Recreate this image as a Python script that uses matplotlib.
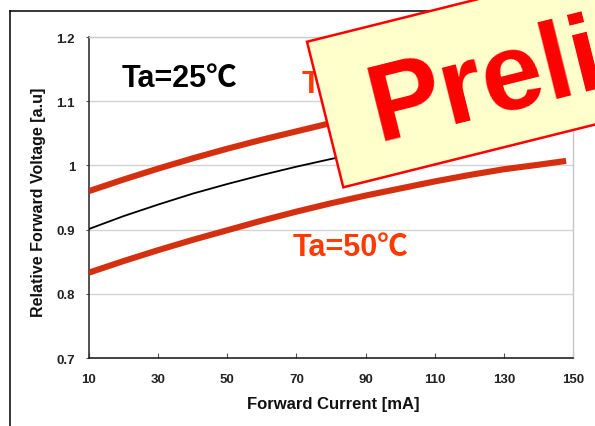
import matplotlib
matplotlib.use("Agg")
import matplotlib.pyplot as plt
import numpy as np
from matplotlib.patches import Polygon

# ---- data ----
current = [10, 20, 30, 40, 50, 60, 70, 80, 90, 100, 110, 120, 130, 140, 148]
v_ta0 = [0.960, 0.978, 0.995, 1.011, 1.026, 1.040, 1.053, 1.066, 1.078, 1.089,
         1.099, 1.108, 1.116, 1.123, 1.128]
v_ta25 = [0.901, 0.921, 0.939, 0.956, 0.971, 0.985, 0.998, 1.010, 1.021, 1.031,
          1.040, 1.048, 1.055, 1.061, 1.066]
v_ta50 = [0.833, 0.851, 0.868, 0.884, 0.899, 0.914, 0.928, 0.941, 0.953, 0.964,
          0.975, 0.985, 0.994, 1.001, 1.007]
x_ticks = [10, 30, 50, 70, 90, 110, 130, 150]
y_ticks = [0.7, 0.8, 0.9, 1.0, 1.1, 1.2]
y_ticklabels = ["0.7", "0.8", "0.9", "1", "1.1", "1.2"]
label_25 = "Ta=25\u2103"
label_50 = "Ta=50\u2103"
label_0 = "Ta=0\u2103"
stamp_text = "Preliminary"

W, H = 595, 427
fig = plt.figure(figsize=(W / 100, H / 100), dpi=100)
fig.patch.set_facecolor("white")

TXT = ["Liberation Sans", "Noto Sans CJK JP", "DejaVu Sans"]

# main axes: px 89..573 horizontally, 38..359 vertically
L, R, T, B = 89, 573, 38, 359
ax = fig.add_axes([L / W, 1 - B / H, (R - L) / W, (B - T) / H])
ax.set_xlim(10, 150)
ax.set_ylim(0.7, 1.2)

red_line = "#d4300f"
ax.plot(current, v_ta0, color=red_line, lw=4.4, solid_capstyle="butt",
        solid_joinstyle="round", zorder=3)
ax.plot(current, v_ta25, color="black", lw=1.3, zorder=3)
ax.plot(current, v_ta50, color=red_line, lw=4.4, solid_capstyle="butt",
        solid_joinstyle="round", zorder=3)

for yv in y_ticks[1:-1]:
    ax.axhline(yv, color="#d4d4d4", lw=1.0, zorder=1)

ax.set_xticks(x_ticks)
ax.set_xticklabels([str(v) for v in x_ticks])
ax.set_yticks(y_ticks)
ax.set_yticklabels(y_ticklabels)
ax.tick_params(axis="x", direction="in", length=3.5, width=0.8, color="#555555",
               pad=10.5, labelsize=9.5)
ax.tick_params(axis="y", direction="out", length=2, width=0.8, color="#555555",
               pad=8, labelsize=9.5)
for lab in ax.get_xticklabels() + ax.get_yticklabels():
    lab.set_fontfamily(["Liberation Sans Narrow", "Liberation Sans"])
    lab.set_fontweight("bold")
    lab.set_color("#222222")

ax.spines["left"].set_color("#333333")
ax.spines["bottom"].set_color("#222222")
ax.spines["left"].set_linewidth(1.2)
ax.spines["bottom"].set_linewidth(1.2)
ax.spines["top"].set_color("#c8c8c8")
ax.spines["right"].set_color("#c8c8c8")
ax.spines["top"].set_linewidth(1.0)
ax.spines["right"].set_linewidth(1.0)

ax.text(19.3, 1.123, label_25, fontsize=22, fontweight="bold", family=TXT,
        color="black", ha="left", va="baseline", zorder=4)
ax.text(69.0, 0.861, label_50, fontsize=22, fontweight="bold", family=TXT,
        color="#ff3a00", ha="left", va="baseline", zorder=4)
ax.text(71.6, 1.114, label_0, fontsize=22, fontweight="bold", family=TXT,
        color="#ff3a00", ha="left", va="baseline", zorder=4)

fig.text(39 / W, 1 - 202 / H, "Relative Forward Voltage [a.u]", rotation=90,
         ha="center", va="center", fontsize=11.5, fontweight="bold",
         family=TXT, color="#111111")
fig.text(333.5 / W, 1 - 405 / H, "Forward Current [mA]", ha="center", va="center",
         fontsize=12, fontweight="bold", family=TXT, color="#111111")

# ---- overlay (pixel coordinates) for page frame and stamp ----
ov = fig.add_axes([0, 0, 1, 1], zorder=10)
ov.set_xlim(0, W)
ov.set_ylim(H, 0)
ov.axis("off")
ov.patch.set_visible(False)

ov.plot([10, W + 5], [12, 12], color="black", lw=1.1, zorder=1)
ov.plot([10, 10], [12, H + 5], color="black", lw=1.1, zorder=1)

ang = np.deg2rad(14.0)
u = np.array([np.cos(ang), -np.sin(ang)])    # along stamp width (screen)
v = np.array([-np.sin(ang), -np.cos(ang)])   # stamp "up" (screen)
origin = np.array([343.3, 188.3])
sw, sh = 700.0, 150.0
corners = [origin, origin + sw * u, origin + sw * u + sh * v, origin + sh * v]
ov.add_patch(Polygon(corners, closed=True, facecolor="#ffffcc",
                     edgecolor="#ff0000", lw=1.8, zorder=5))
tp = origin + 45 * u + 36.5 * v
ov.text(tp[0], tp[1], stamp_text, rotation=14.0, rotation_mode="anchor",
        ha="left", va="baseline", fontsize=79, fontweight="bold",
        family=TXT, color="#ff0000", zorder=6)

fig.savefig("out.png", dpi=100)
